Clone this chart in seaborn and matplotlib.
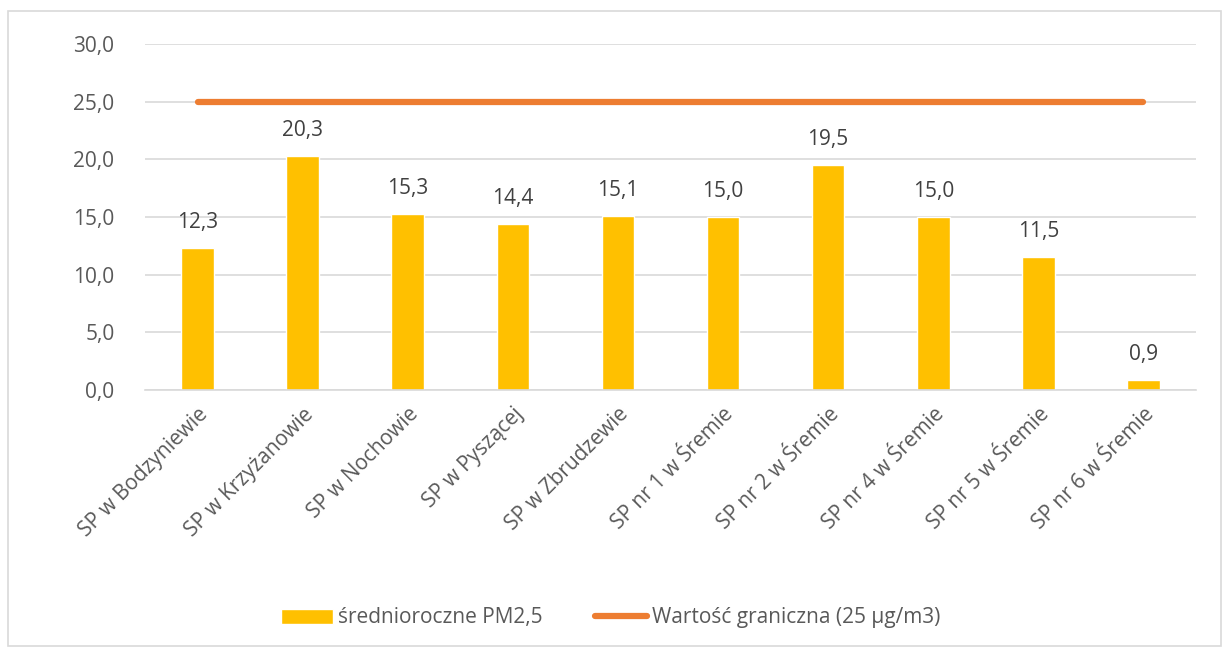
import matplotlib
matplotlib.use("Agg")
import matplotlib.pyplot as plt
import seaborn as sns
import pandas as pd
from matplotlib.patches import Rectangle
from matplotlib.lines import Line2D
from matplotlib.patches import Patch

categories = ["SP w Bodzyniewie", "SP w Krzyżanowie", "SP w Nochowie", "SP w Pyszącej",
              "SP w Zbrudzewie", "SP nr 1 w Śremie", "SP nr 2 w Śremie", "SP nr 4 w Śremie",
              "SP nr 5 w Śremie", "SP nr 6 w Śremie"]
pm25 = [12.3, 20.3, 15.3, 14.4, 15.1, 15.0, 19.5, 15.0, 11.5, 0.9]
limit = [25] * len(categories)
series_bar = "średnioroczne PM2,5"
series_line = "Wartość graniczna (25 µg/m3)"

sns.set_theme(style="white")
plt.rcParams['font.family'] = ['Open Sans', 'DejaVu Sans']
text_color = "#595959"

fig = plt.figure(figsize=(12.22, 6.48), dpi=100)
ax = fig.add_axes([145/1222, 1 - 390/648, (1196-145)/1222, (390-44)/648])

df = pd.DataFrame({"cat": categories, "val": pm25})
sns.barplot(data=df, x="cat", y="val", color="#FFC000", width=0.31, saturation=1, ax=ax)
ax.plot(range(len(categories)), limit, color="#ED7D31", lw=4.5, solid_capstyle="round", zorder=3)

for i, v in enumerate(pm25):
    ax.text(i, v + 1.3, f"{v:.1f}".replace(".", ","), ha="center", va="bottom",
            fontsize=15, color="#404040")

ax.set_ylim(0, 30)
ax.set_xlim(-0.5, len(categories) - 0.5)
ax.set_yticks([0, 5, 10, 15, 20, 25, 30])
ax.set_yticklabels([f"{t:.1f}".replace(".", ",") for t in [0, 5, 10, 15, 20, 25, 30]],
                   fontsize=15, color=text_color)
ax.set_xticks(range(len(categories)))
ax.set_xticklabels(categories, rotation=45, ha="right", rotation_mode="anchor",
                   fontsize=15, color=text_color)
ax.tick_params(axis="y", length=0, pad=22)
ax.tick_params(axis="x", length=0, pad=10)
ax.set_xlabel("")
ax.set_ylabel("")
ax.yaxis.grid(True, color="#D9D9D9", lw=1.2)
ax.set_axisbelow(True)
for s in ["top", "right", "left"]:
    ax.spines[s].set_visible(False)
ax.spines["bottom"].set_color("#D9D9D9")
ax.spines["bottom"].set_linewidth(1.2)

handles = [Patch(facecolor="#FFC000", label=series_bar),
           Line2D([0], [0], color="#ED7D31", lw=4.5, solid_capstyle="round", label=series_line)]
fig.legend(handles=handles, loc="center", bbox_to_anchor=(0.5, 1 - 618/648), ncol=2,
           frameon=False, fontsize=15, labelcolor=text_color, handlelength=2.5,
           handleheight=0.7, handletextpad=0.25, columnspacing=2.5)

fig.patches.append(Rectangle((8/1222, 1 - 646/648), (1221-8)/1222, (646-11)/648,
                             transform=fig.transFigure, fill=False, edgecolor="#D9D9D9", lw=1.2))

fig.savefig("out.png", dpi=100)
